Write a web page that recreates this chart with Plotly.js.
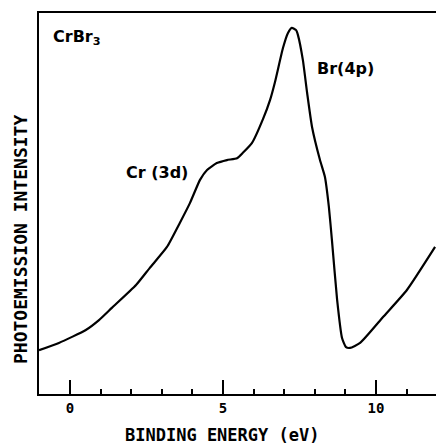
<!DOCTYPE html>
<html>
<head>
<meta charset="utf-8">
<script src="https://cdn.plot.ly/plotly-3.0.1.min.js"></script>
<style>html,body{margin:0;padding:0;background:#fff;}#chart{width:436px;height:447px;}</style>
</head>
<body>
<div id="chart"></div>
<script>
// Binding energy (eV) and photoemission intensity (arbitrary units)
const bindingEnergy = [-1.01, -0.36, 0.52, 0.95, 1.37, 2.16, 2.61, 3.17, 3.59, 3.92, 4.25, 4.48, 4.80, 5.13, 5.46, 5.65, 5.95, 6.31, 6.54, 6.70, 6.96, 7.12, 7.25, 7.39, 7.45, 7.61, 7.75, 7.91, 8.17, 8.33, 8.46, 8.56, 8.73, 8.89, 9.02, 9.15, 9.48, 10.23, 11.01, 11.93];
const intensity     = [11.5, 13.4, 16.8, 19.4, 22.6, 28.6, 33.1, 38.6, 44.9, 50.1, 56.2, 58.8, 60.6, 61.4, 61.9, 63.3, 65.9, 72.2, 77.2, 81.9, 90.8, 94.7, 96.1, 95.5, 94.2, 87.7, 79.0, 70.1, 61.4, 57.0, 49.1, 40.4, 24.7, 14.7, 12.3, 12.1, 13.4, 20.2, 27.3, 38.6];
const tickValues = [0, 5, 10];
const tickLabels = ["0", "5", "10"];

const plotFont = "DejaVu Sans Mono, monospace";
const labelFont = "DejaVu Sans, sans-serif";

const trace = {
  x: bindingEnergy,
  y: intensity,
  type: "scatter",
  mode: "lines",
  line: {color: "#000", width: 2.2, shape: "spline", smoothing: 0.5},
  hoverinfo: "skip"
};

const layout = {
  width: 436,
  height: 447,
  margin: {l: 39, r: 0, t: 13, b: 53, pad: 0},
  paper_bgcolor: "#fff",
  plot_bgcolor: "#fff",
  showlegend: false,
  xaxis: {
    range: [-1.01, 11.96],
    showgrid: false,
    zeroline: false,
    showline: true,
    linecolor: "#000",
    linewidth: 2,
    mirror: true,
    tickmode: "array",
    tickvals: tickValues,
    ticktext: tickLabels,
    ticks: "inside",
    ticklen: 14,
    tickwidth: 2,
    tickcolor: "#000",
    minor: {dtick: 1, ticks: "inside", ticklen: 5, tickwidth: 2, tickcolor: "#000"},
    tickfont: {family: plotFont, size: 14, color: "#000", weight: "bold"}
  },
  yaxis: {
    range: [0, 100],
    showgrid: false,
    zeroline: false,
    showline: true,
    linecolor: "#000",
    linewidth: 2,
    showticklabels: false,
    ticks: ""
  },
  annotations: [
    {text: "BINDING ENERGY (eV)", xref: "paper", yref: "paper", x: (222 - 39) / 397, y: (394 - 435) / 381,
     xanchor: "center", yanchor: "middle", showarrow: false,
     font: {family: plotFont, size: 17, color: "#000", weight: "bold"}},
    {text: "PHOTOEMISSION INTENSITY", xref: "paper", yref: "paper", x: (20 - 39) / 397, y: (394 - 240) / 381,
     xanchor: "center", yanchor: "middle", textangle: -90, showarrow: false,
     font: {family: plotFont, size: 18, color: "#000", weight: "bold"}},
    {text: "CrBr<sub>3</sub>", xref: "paper", yref: "paper", x: (51 - 39) / 397, y: (394 - 37) / 381,
     xanchor: "left", yanchor: "middle", showarrow: false,
     font: {family: labelFont, size: 16, color: "#000", weight: "bold"}},
    {text: "Br(4p)", xref: "paper", yref: "paper", x: (315 - 39) / 397, y: (394 - 68) / 381,
     xanchor: "left", yanchor: "middle", showarrow: false,
     font: {family: labelFont, size: 16, color: "#000", weight: "bold"}},
    {text: "Cr (3d)", xref: "paper", yref: "paper", x: (124 - 39) / 397, y: (394 - 172) / 381,
     xanchor: "left", yanchor: "middle", showarrow: false,
     font: {family: labelFont, size: 16, color: "#000", weight: "bold"}}
  ]
};

Plotly.newPlot("chart", [trace], layout, {staticPlot: true, displayModeBar: false});
</script>
</body>
</html>
